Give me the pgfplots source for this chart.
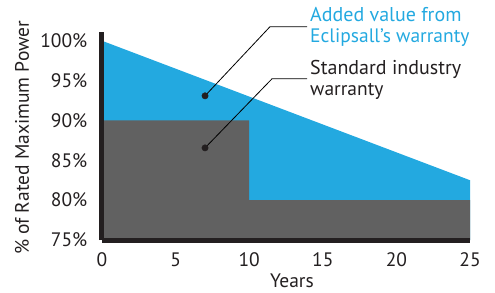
\documentclass[border=0pt]{standalone}
\usepackage{pgfplots}
\pgfplotsset{compat=1.18}
\usepackage{fontspec}
\setmainfont{PT Sans}
\definecolor{eblue}{HTML}{23A9E0}
\definecolor{egray}{HTML}{616161}
\definecolor{eaxis}{HTML}{231F20}
\definecolor{etext}{HTML}{231F20}
\begin{document}
\fontsize{19.5}{21}\selectfont
\begin{tikzpicture}
\useasboundingbox (-102pt,-52pt) rectangle (393pt,240pt);
\begin{axis}[
  at={(0,0)}, anchor=south west,
  scale only axis, width=368pt, height=208pt,
  xmin=0, xmax=25, ymin=75, ymax=101.1,
  axis x line=bottom, axis y line=left,
  axis line style={line width=5pt, color=eaxis, -},
  axis on top,
  xtick={0,5,10,15,20,25},
  ytick={75,80,85,90,95,100},
  yticklabel={\pgfmathprintnumber{\tick}\%},
  major tick length=0pt,
  /pgf/number format/assume math mode=true,
  tick label style={font=\fontsize{19.5}{21}\selectfont, text=etext},
  yticklabel style={xshift=-8pt},
  xticklabel style={yshift=-6pt},
  clip=false,
]
\addplot[fill=eblue, draw=none] coordinates {(0,75) (0,100) (25,82.5) (25,75)} -- cycle;
\addplot[fill=egray, draw=none] coordinates {(0,75) (0,90) (10,90) (10,80) (25,80) (25,75)} -- cycle;
\addplot[black, line width=0.8pt] coordinates {(7.0,93.09) (11.41,101.76) (13.93,101.76)};
\addplot[black, line width=0.8pt] coordinates {(7.0,86.56) (11.55,95.23) (13.93,95.23)};
\addplot[only marks, mark=*, mark size=3.2pt, color=eaxis] coordinates {(7.0,93.09) (7.0,86.56)};
\end{axis}
\node[rotate=90, text=etext] at (-80pt,102pt) {\% of Rated Maximum Power};
\node[text=etext] at (190pt,-41pt) {Years};
\node[anchor=west, align=left, text=eblue, inner sep=0pt] at (208pt,213.5pt) {\fontsize{20}{21}\selectfont Added value from\\Eclipsall’s warranty};
\node[anchor=west, align=left, text=etext, inner sep=0pt] at (208pt,160pt) {\fontsize{20}{21}\selectfont Standard industry\\warranty};
\end{tikzpicture}
\end{document}
